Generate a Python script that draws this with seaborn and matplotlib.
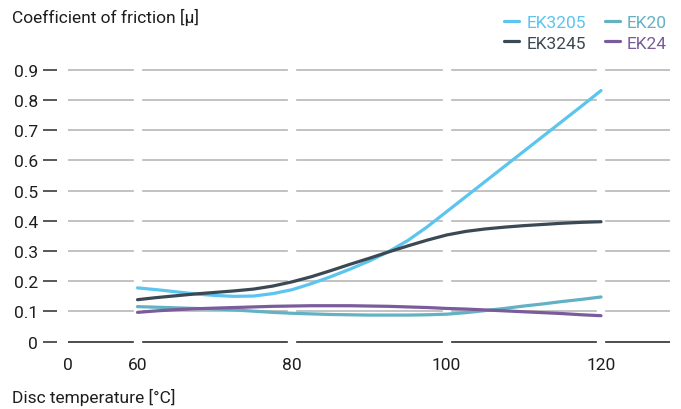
import numpy as np
import pandas as pd
import matplotlib
matplotlib.use("Agg")
import matplotlib.pyplot as plt
import seaborn as sns

# values (disc temperature in degC)
TEMPS = [60, 62.5, 65, 67.5, 70, 72.5, 75, 77.5, 80, 82.5, 85, 87.5, 90,
         92.5, 95, 97.5, 100, 102.5, 105, 107.5, 110, 112.5, 115, 117.5, 120]
EK3205 = [0.178, 0.172, 0.165, 0.158, 0.153, 0.150, 0.151, 0.159, 0.172, 0.192, 0.215, 0.240, 0.267,
          0.298, 0.335, 0.380, 0.430, 0.480, 0.530, 0.580, 0.630, 0.680, 0.730, 0.780, 0.831]
EK3245 = [0.139, 0.146, 0.152, 0.158, 0.163, 0.168, 0.174, 0.184, 0.198, 0.215, 0.235, 0.256, 0.276,
          0.297, 0.317, 0.336, 0.353, 0.365, 0.373, 0.379, 0.384, 0.388, 0.392, 0.395, 0.397]
EK20 = [0.116, 0.114, 0.112, 0.110, 0.108, 0.105, 0.101, 0.097, 0.094, 0.092, 0.090, 0.089, 0.088,
        0.088, 0.088, 0.089, 0.091, 0.096, 0.103, 0.110, 0.118, 0.125, 0.133, 0.140, 0.148]
EK24 = [0.097, 0.102, 0.106, 0.109, 0.111, 0.113, 0.115, 0.117, 0.118, 0.119, 0.119, 0.119, 0.118,
        0.117, 0.115, 0.113, 0.110, 0.108, 0.105, 0.102, 0.099, 0.096, 0.093, 0.089, 0.086]

SERIES = {"EK3205": EK3205, "EK3245": EK3245, "EK20": EK20, "EK24": EK24}
COLORS = {"EK3205": "#5bc5f0", "EK3245": "#3b4954", "EK20": "#62b2c3", "EK24": "#7a5b9b"}
LEGEND_ORDER = ["EK3205", "EK3245", "EK20", "EK24"]

X_TICKS = [51.0, 60, 80, 100, 120]
X_TICK_LABELS = ["0", "60", "80", "100", "120"]
Y_TICKS = [0, 0.1, 0.2, 0.3, 0.4, 0.5, 0.6, 0.7, 0.8, 0.9]
Y_TICK_LABELS = ["0", "0.1", "0.2", "0.3", "0.4", "0.5", "0.6", "0.7", "0.8", "0.9"]

df = pd.concat(
    [pd.DataFrame({"temp": TEMPS, "mu": vals, "material": name}) for name, vals in SERIES.items()],
    ignore_index=True,
)

sns.set_theme(style="white")
plt.rcParams["font.family"] = ["Roboto", "DejaVu Sans"]
text_color = "#1e1e1e"
FS = 12.5

fig = plt.figure(figsize=(6.81, 4.10), dpi=100)
ax = fig.add_axes([68 / 681, 1 - 345.7 / 410, 602 / 681, 278 / 410])

# light horizontal grid, dark zero line
for y in Y_TICKS[1:]:
    ax.axhline(y, color="#bdbdbd", linewidth=1.3, zorder=1)
ax.axhline(0, color="#4d4d4d", linewidth=1.4, zorder=1)
# white gaps in the grid at every temperature tick
for x in [60, 80, 100, 120]:
    ax.axvline(x, color="white", linewidth=6.0, zorder=2)

sns.lineplot(
    data=df, x="temp", y="mu", hue="material", hue_order=LEGEND_ORDER,
    palette=COLORS, linewidth=2.3, ax=ax, zorder=3, legend=False,
)

ax.set_xlim(51.0, 128.93)
ax.set_ylim(-0.01, 0.91)
ax.set_xticks(X_TICKS)
ax.set_xticklabels(X_TICK_LABELS)
ax.set_yticks(Y_TICKS)
ax.set_yticklabels(Y_TICK_LABELS)

for side in ["top", "right", "bottom", "left"]:
    ax.spines[side].set_visible(False)
ax.spines["left"].set_position(("outward", 7.9))
ax.tick_params(axis="y", length=10, width=1.1, color="#2a2a2a", pad=3.6,
               labelsize=FS, labelcolor=text_color, left=True)
ax.tick_params(axis="x", length=0, pad=9, labelsize=FS, labelcolor=text_color)

ax.set_ylabel("Coefficient of friction [μ]", rotation=0, ha="left", va="center",
              fontsize=FS, color=text_color)
ax.yaxis.set_label_coords(-0.093, 1.179)
ax.set_xlabel("Disc temperature [°C]", ha="left", va="center", fontsize=FS, color=text_color)
ax.xaxis.set_label_coords(-0.093, -0.1845)

handles = [plt.Line2D([], [], color=COLORS[n], linewidth=2.3) for n in LEGEND_ORDER]
leg = fig.legend(
    handles, LEGEND_ORDER, ncol=2, loc="upper right", bbox_to_anchor=(667 / 681, 1 - 16 / 410),
    frameon=False, fontsize=FS, handlelength=0.85, handletextpad=0.42,
    columnspacing=1.1, labelspacing=0.3, borderpad=0, borderaxespad=0,
)
for txt, name in zip(leg.get_texts(), LEGEND_ORDER):
    txt.set_color(COLORS[name])

fig.savefig("out.png", dpi=100)
